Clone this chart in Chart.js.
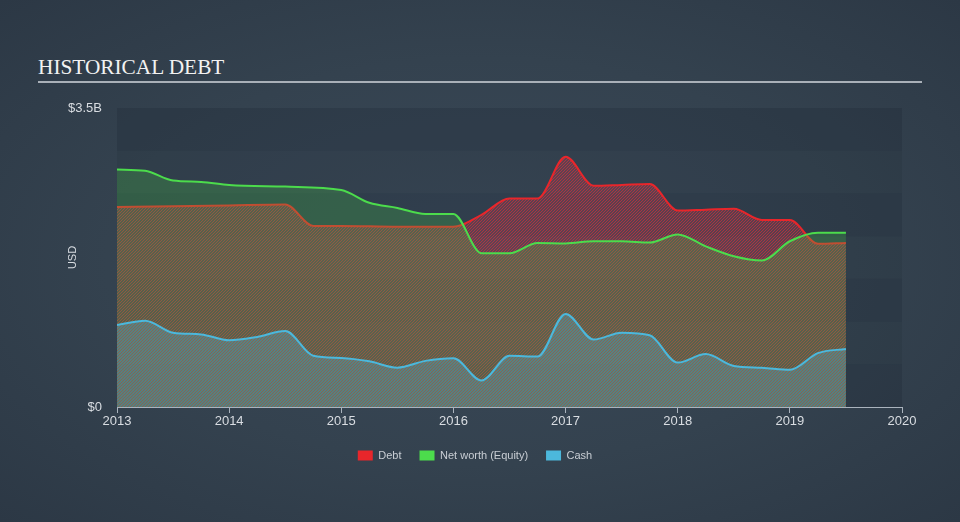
<!DOCTYPE html>
<html>
<head>
<meta charset="utf-8">
<script src="https://cdn.jsdelivr.net/npm/chart.js@4.4.1/dist/chart.umd.min.js"></script>
<style>
html,body{margin:0;padding:0;}
body{
  width:960px;height:522px;overflow:hidden;position:relative;
  background:radial-gradient(ellipse at 50% 50%, #3a4959 0%, #34424f 55%, #2c3845 100%);
  font-family:"Liberation Sans",Arial,sans-serif;
}
#title{position:absolute;left:38px;top:57px;font-family:"Liberation Serif","Times New Roman",serif;font-size:21.3px;line-height:1;color:#f2f2f2;}
#rule{position:absolute;left:38px;top:81px;width:884px;height:2px;background:#a9b0b8;}
#wrap{position:absolute;left:0;top:0;width:960px;height:522px;}
</style>
</head>
<body>
<div id="title">HISTORICAL DEBT</div>
<div id="rule"></div>
<div id="wrap"><canvas id="chart" width="960" height="522"></canvas></div>
<script>
// fechas en años decimales, valores en miles de millones (B)
const debtDates   = [2013, 2013.5, 2014, 2014.5, 2014.75, 2015, 2015.5, 2016, 2016.25, 2016.5, 2016.75, 2017, 2017.25, 2017.5, 2017.75, 2018, 2018.25, 2018.5, 2018.75, 2019, 2019.25, 2019.5];
const debtValues  = [2.34, 2.35, 2.36, 2.37, 2.12, 2.12, 2.11, 2.11, 2.25, 2.44, 2.44, 2.93, 2.59, 2.60, 2.61, 2.30, 2.31, 2.32, 2.19, 2.19, 1.91, 1.92];

const equityDates  = [2013, 2013.25, 2013.5, 2013.75, 2014, 2014.5, 2015, 2015.25, 2015.5, 2015.75, 2016, 2016.25, 2016.5, 2016.75, 2017, 2017.25, 2017.5, 2017.75, 2018, 2018.25, 2018.5, 2018.75, 2019, 2019.25, 2019.5];
const equityValues = [2.78, 2.765, 2.65, 2.635, 2.60, 2.58, 2.54, 2.39, 2.33, 2.26, 2.26, 1.80, 1.80, 1.92, 1.915, 1.94, 1.94, 1.925, 2.02, 1.88, 1.765, 1.715, 1.94, 2.04, 2.04];

const cashDates  = [2013, 2013.25, 2013.5, 2013.75, 2014, 2014.25, 2014.5, 2014.75, 2015, 2015.25, 2015.5, 2015.75, 2016, 2016.25, 2016.5, 2016.75, 2017, 2017.25, 2017.5, 2017.75, 2018, 2018.25, 2018.5, 2018.75, 2019, 2019.25, 2019.5];
const cashValues = [0.96, 1.01, 0.87, 0.85, 0.78, 0.82, 0.89, 0.60, 0.575, 0.535, 0.46, 0.54, 0.57, 0.31, 0.60, 0.59, 1.09, 0.79, 0.87, 0.84, 0.52, 0.62, 0.48, 0.46, 0.435, 0.63, 0.68];

const yearTicks = [2013, 2014, 2015, 2016, 2017, 2018, 2019, 2020];
const yTicks = [0, 3.5];
const seriesNames = ["Cash", "Net worth (Equity)", "Debt"];

const RED = "#e8262b";
const GREEN = "#4cdc4c";
const BLUE = "#4cb8dc";

// rayado diagonal "/" (off desplaza las rayas dentro del tile)
function hatch(stroke, bg, size, lw, off){
  const c = document.createElement("canvas");
  c.width = size; c.height = size;
  const g = c.getContext("2d");
  if (bg){ g.fillStyle = bg; g.fillRect(0,0,size,size); }
  g.strokeStyle = stroke;
  g.lineWidth = lw;
  g.beginPath();
  for (let k = -1; k <= 1; k++){
    const d = k*size + (off || 0);
    g.moveTo(d - 1, size + 1); g.lineTo(d + size + 1, -1);
  }
  g.stroke();
  return g.createPattern(c, "repeat");
}

const pts = (xs, ys) => xs.map((x,i) => ({ x, y: ys[i] }));

const bands = {
  id: "bands",
  beforeDraw(chart){
    const { ctx, chartArea: a, scales: { y } } = chart;
    ctx.save();
    for (let i = 0; i < 7; i++){
      const top = y.getPixelForValue((i+1)*0.5);
      const bot = y.getPixelForValue(i*0.5);
      ctx.fillStyle = (i % 2 === 0) ? "rgba(22,32,44,0.22)" : "rgba(22,32,44,0.12)";
      ctx.fillRect(a.left, top, a.right - a.left, bot - top);
    }
    ctx.restore();
  }
};

new Chart(document.getElementById("chart"), {
  type: "line",
  data: {
    datasets: [
      {
        label: seriesNames[0],
        data: pts(cashDates, cashValues),
        borderColor: BLUE,
        backgroundColor: hatch("rgba(85,175,200,0.5)", "rgba(75,170,200,0.10)", 3, 1.2, 1.5),
        fill: "origin"
      },
      {
        label: seriesNames[1],
        data: pts(equityDates, equityValues),
        borderColor: GREEN,
        backgroundColor: "rgba(72,200,72,0.25)",
        fill: "origin"
      },
      {
        label: seriesNames[2],
        data: pts(debtDates, debtValues),
        borderColor: RED,
        backgroundColor: hatch("rgba(225,45,60,0.72)", "rgba(190,190,210,0.07)", 3, 1.1, 0),
        fill: "origin"
      }
    ]
  },
  options: {
    responsive: false,
    animation: false,
    layout: { padding: { top: 108, right: 58, bottom: 51, left: 48 } },
    elements: {
      point: { radius: 0 },
      line: { borderWidth: 2, cubicInterpolationMode: "monotone" }
    },
    plugins: {
      tooltip: { enabled: false },
      legend: {
        position: "bottom",
        labels: {
          color: "#c9ced4",
          font: { size: 11, family: "'Liberation Sans', Arial, sans-serif" },
          boxWidth: 15,
          boxHeight: 10,
          padding: 18,
          sort: (a, b) => b.datasetIndex - a.datasetIndex,
          generateLabels: (chart) => {
            const items = Chart.defaults.plugins.legend.labels.generateLabels(chart);
            items.forEach(it => {
              const ds = chart.data.datasets[it.datasetIndex];
              it.fillStyle = ds.borderColor;
              it.strokeStyle = ds.borderColor;
              it.lineWidth = 0;
            });
            return items;
          }
        }
      }
    },
    scales: {
      x: {
        type: "linear",
        min: 2013,
        max: 2020,
        afterBuildTicks: (s) => { s.ticks = yearTicks.map(v => ({ value: v })); },
        afterFit: (s) => { s.height = 25; },
        ticks: {
          color: "#d9dde2",
          font: { size: 13, family: "'Liberation Sans', Arial, sans-serif" },
          padding: 1,
          maxRotation: 0,
          callback: (v) => String(v)
        },
        grid: { drawOnChartArea: false, drawTicks: true, tickLength: 6, color: "#aab3bd" },
        border: { display: true, color: "#aab3bd", width: 1 }
      },
      y: {
        min: 0,
        max: 3.5,
        afterBuildTicks: (s) => { s.ticks = yTicks.map(v => ({ value: v })); },
        afterFit: (s) => { s.width = 69; },
        ticks: {
          color: "#d9dde2",
          font: { size: 13, family: "'Liberation Sans', Arial, sans-serif" },
          padding: 15,
          callback: (v) => v === 0 ? "$0" : `$${v}B`
        },
        grid: { display: false, drawTicks: false },
        border: { display: false },
        title: {
          display: true,
          text: "USD",
          color: "#d9dde2",
          font: { size: 11, family: "'Liberation Sans', Arial, sans-serif" },
          padding: { top: 18, bottom: 0 }
        }
      }
    }
  },
  plugins: [bands]
});
</script>
</body>
</html>
